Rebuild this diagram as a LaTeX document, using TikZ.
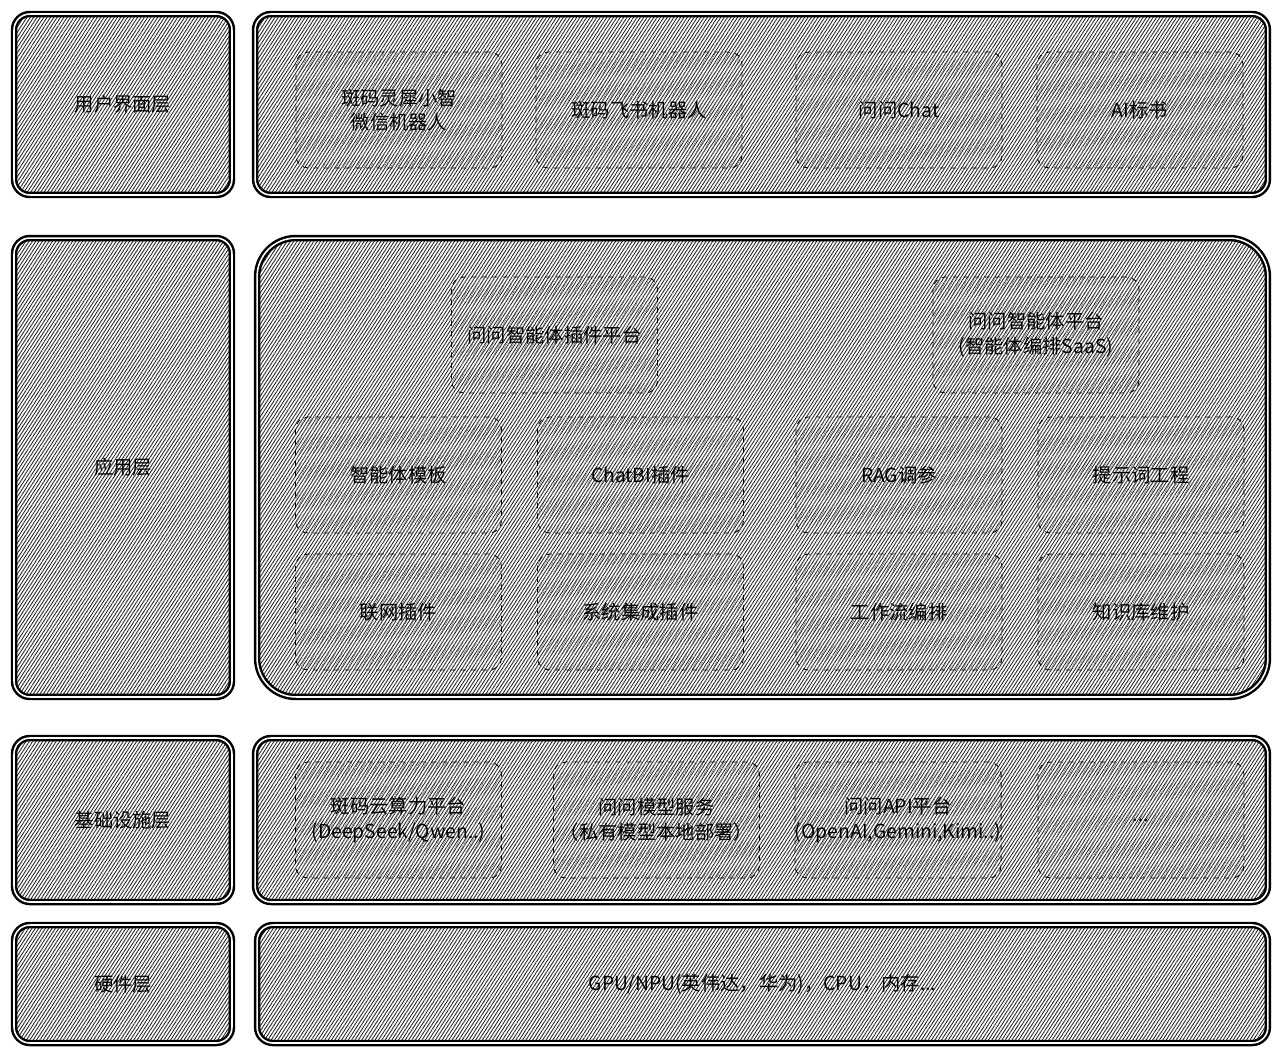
\documentclass[tikz,border=0pt]{standalone}
\usepackage{fontspec}
\setmainfont{Noto Sans CJK SC}
\usepackage{tikz}
\usetikzlibrary{patterns.meta}

\begin{document}
\begin{tikzpicture}[x=0.02cm, y=-0.02cm,
	layer/.style={draw, line width=1.4pt, double=white, double distance=0.9pt, rounded corners=9pt, inner sep=0pt, pattern={Lines[angle=57,distance=1.6pt,line width=0.5pt]}, pattern color=black!85, font=\fontsize{11}{14}\selectfont, align=center},
	part/.style={draw, dashed, line width=0.5pt, rounded corners=7pt, inner sep=0pt, pattern={Lines[angle=62,distance=3.4pt,line width=0.3pt]}, pattern color=black!55, font=\fontsize{11}{14}\selectfont, align=center, minimum width=4.12cm, minimum height=2.32cm}]
	\useasboundingbox (0,0) rectangle (1280,1055);
	\node [layer, minimum width=4.36cm, minimum height=3.62cm] (ui) at (123,104.5) {用户界面层};
	\node [layer, minimum width=4.36cm, minimum height=9.18cm] (app) at (123,467.5) {应用层};
	\node [layer, minimum width=4.36cm, minimum height=3.28cm] (infra) at (123,820) {基础设施层};
	\node [layer, minimum width=4.36cm, minimum height=2.36cm] (hw) at (123,984) {硬件层};
	\node [layer, minimum width=20.26cm, minimum height=3.62cm] (uibox) at (761.5,104.5) {};
	\node [layer, minimum width=20.22cm, minimum height=9.18cm, rounded corners=22pt] (appbox) at (762.5,467.5) {};
	\node [layer, minimum width=20.26cm, minimum height=3.28cm] (infrabox) at (761.5,820) {};
	\node [layer, minimum width=20.22cm, minimum height=2.36cm] (hwbox) at (762.5,984) {GPU/NPU(英伟达，华为)，CPU，内存...};
	\node [part] (wechat) at (399,110) {斑码灵犀小智\\微信机器人};
	\node [part] (feishu) at (639,110) {斑码飞书机器人};
	\node [part] (chat) at (899,110) {问问Chat};
	\node [part] (bid) at (1140,110) {AI标书};
	\node [part] (plugin) at (554.5,335) {问问智能体插件平台};
	\node [part] (agent) at (1036,335) {问问智能体平台\\(智能体编排SaaS)};
	\node [part] (tpl) at (398.5,475) {智能体模板};
	\node [part] (chatbi) at (640.5,475) {ChatBI插件};
	\node [part] (rag) at (899,475) {RAG调参};
	\node [part] (prompt) at (1141,475) {提示词工程};
	\node [part] (web) at (398.5,612) {联网插件};
	\node [part] (sys) at (640.5,612) {系统集成插件};
	\node [part] (flow) at (899,612) {工作流编排};
	\node [part] (kb) at (1141,612) {知识库维护};
	\node [part] (cloud) at (398.5,820) {斑码云算力平台\\(DeepSeek/Qwen..)};
	\node [part] (model) at (656.5,820) {问问模型服务\\（私有模型本地部署）};
	\node [part] (api) at (898,820) {问问API平台\\(OpenAI,Gemini,Kimi..)};
	\node [part] (more) at (1141,820) {...};
\end{tikzpicture}
\end{document}
